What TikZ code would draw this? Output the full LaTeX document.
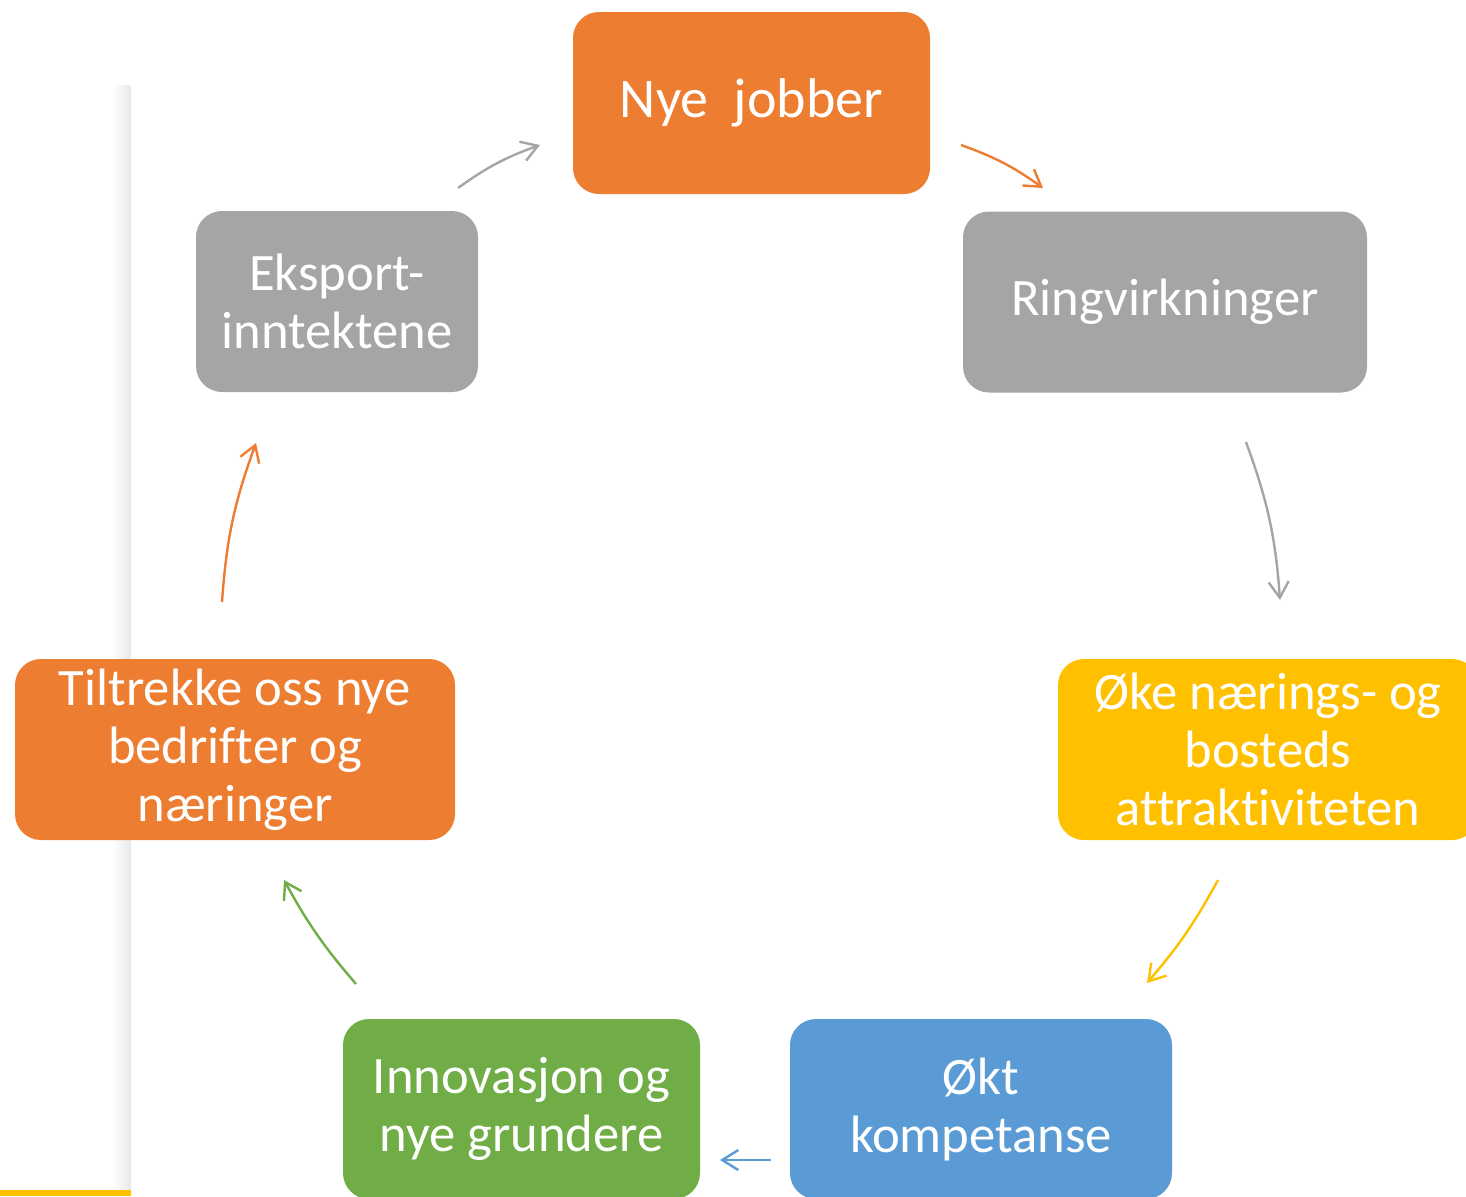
\documentclass[tikz,border=0pt]{standalone}
\usepackage{fontspec}
\setmainfont{Carlito}[Ligatures=NoCommon]
\usepackage{xcolor}
\usetikzlibrary{arrows.meta}

\definecolor{boxorange}{HTML}{ED7D31}
\definecolor{boxgray}{HTML}{A5A5A5}
\definecolor{boxyellow}{HTML}{FFC000}
\definecolor{boxblue}{HTML}{5B9BD5}
\definecolor{boxgreen}{HTML}{70AD47}

\begin{document}
\begin{tikzpicture}[x=0.5pt,y=-0.5pt,
    box/.style={rounded corners=13pt,inner sep=0pt,align=center,text=white,
                font=\fontsize{26.3}{29}\selectfont},
    flow/.style={line width=1.2pt,-{Straight Barb[length=8pt,width=10pt]}}]
    \useasboundingbox (0,0) rectangle (1466,1196);
    % page edge at the left
    \shade[left color=white,right color=black!9] (112,85) rectangle (131,1190);
    \fill[boxyellow] (0,1190) rectangle (131,1196);
    % the cycle
    \node[box,fill=boxorange,minimum width=178.5pt,minimum height=91pt,
          font=\fontsize{28}{31}\selectfont] (jobs) at (751.5,103) {Nye~~jobber};
    \node[box,fill=boxgray,minimum width=202pt,minimum height=90.5pt] (ring) at (1165,302) {Ringvirkninger};
    \node[box,fill=boxyellow,minimum width=210pt,minimum height=90.5pt] (attr) at (1268,749.5) {Øke nærings- og\\bosteds\\attraktiviteten};
    \node[box,fill=boxblue,minimum width=191pt,minimum height=90pt] (komp) at (981,1109) {Økt\\kompetanse};
    \node[box,fill=boxgreen,minimum width=178.5pt,minimum height=90pt] (innov) at (521.5,1109) {Innovasjon og\\nye grundere};
    \node[box,fill=boxorange,minimum width=220pt,minimum height=90.5pt] (tiltr) at (235,749.5) {Tiltrekke oss nye\\bedrifter og\\næringer};
    \node[box,fill=boxgray,minimum width=141pt,minimum height=90.5pt] (eksp) at (337,301.5) {Eksport-\\inntektene};
    % arrow ends
    \coordinate (eksp-out) at (458,188);
    \coordinate (jobs-in) at (540,145);
    \coordinate (jobs-out) at (961,145);
    \coordinate (ring-in) at (1043,188);
    \coordinate (ring-out) at (1246,442);
    \coordinate (attr-in) at (1280,600);
    \coordinate (attr-out) at (1218,880);
    \coordinate (komp-in) at (1147,983);
    \coordinate (komp-out) at (771,1160);
    \coordinate (innov-in) at (720,1160);
    \coordinate (innov-out) at (356,984);
    \coordinate (tiltr-in) at (284,880);
    \coordinate (tiltr-out) at (222,602);
    \coordinate (eksp-in) at (256,443);
    \draw[flow,boxgray] (eksp-out) to[bend left=8] (jobs-in);
    \draw[flow,boxorange] (jobs-out) to[bend left=8] (ring-in);
    \draw[flow,boxgray] (ring-out) to[bend left=8] (attr-in);
    \draw[flow,boxyellow] (attr-out) to[bend left=6] (komp-in);
    \draw[flow,boxblue] (komp-out) -- (innov-in);
    \draw[flow,boxgreen] (innov-out) to[bend left=6] (tiltr-in);
    \draw[flow,boxorange] (tiltr-out) to[bend left=8] (eksp-in);
\end{tikzpicture}
\end{document}
